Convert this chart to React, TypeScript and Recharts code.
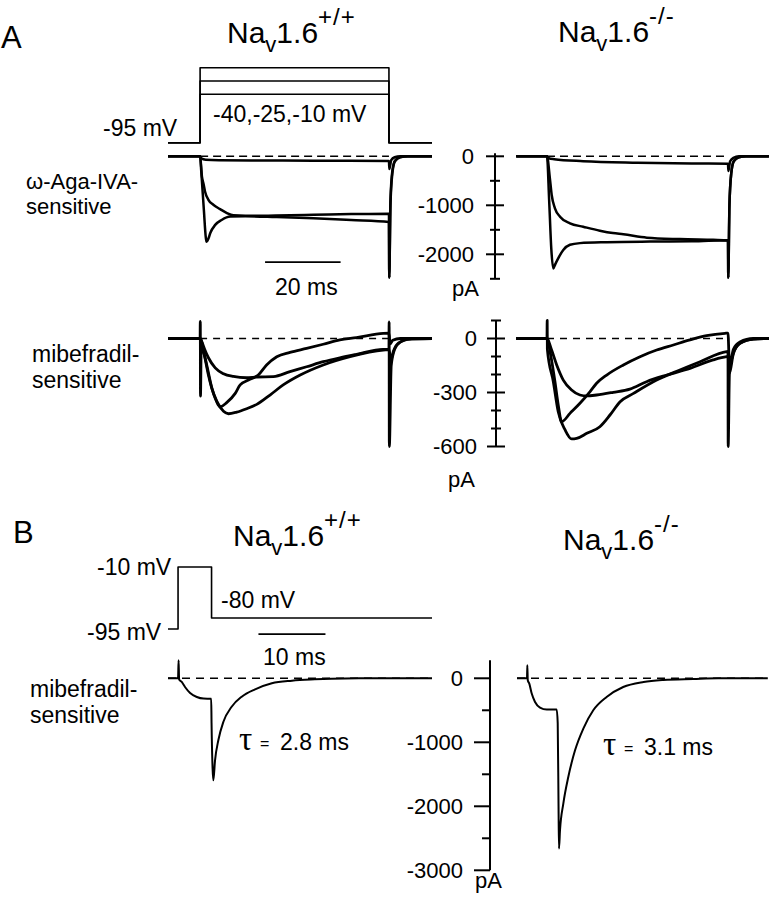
import React from 'react';
import { Line, LineChart, ReferenceLine, XAxis, YAxis } from 'recharts';

type Pt = [number, number];

// ---------- voltage protocols: [ms, mV]
const protoA40: Pt[] = [[-8.5, -95], [0, -95], [0, -40], [50, -40], [50, -95], [61.4, -95]];
const protoA25: Pt[] = [[-8.5, -95], [0, -95], [0, -25], [50, -25], [50, -95], [61.4, -95]];
const protoA10: Pt[] = [[-8.5, -95], [0, -95], [0, -10], [50, -10], [50, -95], [61.4, -95]];
const protoB: Pt[] = [[-1.5, -95], [0, -95], [0, -10], [5, -10], [5, -80], [37.9, -80]];

// ---------- omega-Aga-IVA-sensitive currents: [ms, pA]
const agaWtSmall: Pt[] = [[-8.5, 0], [0, 0], [0.3, -40], [1.5, -70], [5, -80], [15, -85], [30, -90], [50, -95], [50.1, -260], [50.6, -80], [51.5, -20], [53, 0], [61.4, 0]];
const agaWtSlow: Pt[] = [[-8.5, 0], [0, 0], [0.5, -420], [0.9, -560], [1.3, -718], [2.2, -888], [3.5, -990], [5.3, -1078], [7.1, -1159], [8.8, -1205], [12, -1215], [20, -1210], [30, -1195], [40, -1180], [50, -1170], [50.08, -2480], [50.4, -900], [50.9, -300], [51.6, -90], [53, -15], [55, 0], [61.4, 0]];
const agaWtPeak: Pt[] = [[-8.5, 0], [0, 0], [0.3, -300], [1.0, -1100], [1.5, -1650], [1.7, -1745], [2.2, -1680], [2.7, -1565], [4, -1400], [5.7, -1300], [8, -1230], [12, -1225], [20, -1240], [30, -1265], [40, -1300], [50, -1340], [50.08, -2480], [50.4, -1000], [50.9, -350], [51.6, -100], [53, -20], [55, 0], [61.4, 0]];

const agaKoSmall: Pt[] = [[-8.5, 0], [0, 0], [0.5, -40], [2, -60], [10, -100], [25, -130], [40, -145], [50, -150], [50.1, -300], [50.6, -100], [51.5, -30], [53, 0], [61.3, 0]];
const agaKoSlow: Pt[] = [[-8.5, 0], [0, 0], [0.8, -449], [1.3, -790], [2.2, -1061], [3.6, -1232], [6.35, -1369], [10, -1437], [14.6, -1518], [18.2, -1567], [21.1, -1592], [27.6, -1660], [36.7, -1690], [45.9, -1705], [50, -1714], [50.08, -2480], [50.4, -1000], [50.9, -350], [51.6, -100], [53, -20], [55, 0], [61.3, 0]];
const agaKoPeak: Pt[] = [[-8.5, 0], [0, 0], [0.6, -900], [1.2, -1900], [1.74, -2290], [2.3, -2200], [3.1, -2082], [4.5, -1912], [6.35, -1806], [9.1, -1772], [16.5, -1752], [28.5, -1740], [40, -1735], [50, -1712], [50.08, -2480], [50.4, -1000], [50.9, -350], [51.6, -100], [53, -20], [55, 0], [61.3, 0]];

// ---------- mibefradil-sensitive currents, panel A: [ms, pA]
const mibWtSmall: Pt[] = [[-8.5, 0], [0, 0], [0.5, -20], [1.2, -60], [2.2, -107], [4, -163], [6.2, -196], [8.8, -211], [12.3, -218], [15, -214], [19.4, -212], [23.8, -184], [28.2, -157], [32.6, -129], [37, -107], [41.4, -88], [48.5, -60], [50, -60], [50.5, -120], [51.2, -70], [52.5, -25], [55, -5], [61.4, 0]];
const mibWtMid: Pt[] = [[-8.5, 0], [0, 0], [1.3, -110], [2.2, -203], [3.1, -277], [4.0, -332], [4.8, -369], [5.3, -379], [7.1, -355], [9.3, -305], [10.6, -258], [12.8, -231], [15.4, -203], [17.6, -147], [20.3, -101], [23.8, -77], [28.2, -55], [32.6, -32], [37, -8], [41.4, 5], [48.5, 29], [50, 30], [50.3, -30], [51, -10], [53, 0], [61.4, 0]];
const mibWtLarge: Pt[] = [[-8.5, 0], [0, 0], [0.05, 95], [0.1, -320], [0.3, -40], [1.0, -80], [1.76, -147], [3.1, -274], [4.4, -348], [6.2, -404], [7.5, -418], [9.7, -409], [12.3, -390], [15, -366], [18.5, -314], [22, -258], [26.5, -203], [32.6, -147], [39.7, -101], [48.5, -64], [50, -62], [50.05, 92], [50.1, -600], [50.6, -150], [51.5, -60], [53, -20], [56, 0], [61.4, 0]];

const mibKoSmall: Pt[] = [[-8.5, 0], [0, 0], [1.2, -60], [2.68, -147], [4.5, -231], [6.8, -286], [9.1, -314], [11, -319], [13.7, -314], [18.3, -299], [22.9, -281], [27.5, -240], [33.1, -203], [39.5, -166], [45.9, -119], [49.6, -101], [50, -100], [50.4, -194], [51.5, -82], [53.3, -27], [57, -3], [61.3, 0]];
const mibKoMid: Pt[] = [[-8.5, 0], [0, 0], [1.0, -90], [2.2, -240], [3.1, -369], [4.05, -462], [6.35, -416], [9.1, -360], [11.9, -295], [13.7, -249], [16.5, -203], [21.1, -147], [25.7, -101], [30.3, -64], [34.9, -36], [39.5, -8], [44.1, 16], [49.2, 29], [50, 30], [50.4, -150], [51.5, -60], [53.3, -20], [57, 0], [61.3, 0]];
const mibKoLarge: Pt[] = [[-8.5, 0], [0, 0], [0.05, 100], [0.1, -60], [1.75, -240], [3.1, -407], [5.0, -508], [6.8, -558], [8.2, -555], [11, -527], [14.6, -490], [17.4, -425], [20.2, -351], [23.9, -305], [30.3, -231], [36.7, -175], [42.3, -129], [49.6, -73], [50, -72], [50.05, -600], [50.4, -194], [51.5, -82], [53.3, -27], [57, -3], [61.3, 0]];

// ---------- panel B tail currents: [ms, pA]
const tailWt: Pt[] = [[-1.5, 0], [0, 0], [0.08, 280], [0.16, -20], [0.55, -57], [1.04, -136], [1.8, -230], [2.8, -292], [3.8, -317], [4.95, -320], [5.0, -700], [5.15, -1400], [5.27, -1594], [5.52, -1281], [6.02, -964], [6.77, -678], [8.0, -444], [9.5, -287], [11.5, -172], [14, -78], [17, -37], [20.4, -16], [22.9, -6], [27, 0], [37.9, 0]];
const tailKo: Pt[] = [[-1.57, 0], [0, 0], [0.05, 203], [0.12, -30], [0.36, -83], [0.74, -239], [1.26, -370], [2.04, -458], [3.1, -489], [4.66, -489], [4.82, -700], [4.95, -2000], [5.02, -2661], [5.18, -2375], [5.7, -1958], [6.48, -1542], [7.54, -1125], [8.84, -786], [10.4, -500], [12.5, -292], [15.1, -136], [18.3, -58], [21.4, -27], [26.1, -11], [30, 0], [37.8, 0]];

// ---------- axis ticks (pA)
const agaTicks = [0, -500, -1000, -1500, -2000, -2500];
const agaMajor = [0, -1000, -2000];
const mibTicks = [100, 0, -100, -200, -300, -400, -500, -600];
const mibMajor = [0, -300, -600];
const tailTicks = [0, -500, -1000, -1500, -2000, -2500, -3000];
const tailMajor = [0, -1000, -2000, -3000];

const FONT = "'Liberation Sans', Arial, Helvetica, sans-serif";

type AxisSpec = {
  ticks: number[];
  major: number[];
  gap: number;
  majorLen: number;
  minorLen: number;
  both: boolean;
  top: number;
  bottom: number;
};

type Panel = {
  left: number;
  top: number;
  width: number;
  height: number;
  x: [number, number];
  y: [number, number];
  series: Pt[][];
  lineWidth: number;
  curve: 'linear' | 'monotoneX';
  axis?: AxisSpec;
  dash?: { from: number; to: number; pattern: string };
  bar?: { from: number; to: number; at: number };
};

const rows = (pts: Pt[]) => pts.map(([t, i]) => ({ t, i }));

const renderTick = (ax: AxisSpec) => (props: any) => {
  const { x, y, payload } = props;
  const v = payload.value;
  const cx = x + ax.gap;
  const major = ax.major.includes(v);
  const len = major ? ax.majorLen : ax.minorLen;
  return (
    <g>
      <line x1={cx - len} x2={ax.both ? cx + len : cx} y1={y} y2={y} stroke='#000' strokeWidth={2} />
      {major && (
        <text x={x} y={y} dy='0.36em' textAnchor='end' fontSize={22} fontFamily={FONT} fill='#000'>
          {v}
        </text>
      )}
    </g>
  );
};

function TracePanel({ p }: { p: Panel }) {
  const axisW = p.axis ? 90 : 0;
  return (
    <div style={{ position: 'absolute', left: p.left - axisW, top: p.top }}>
      <LineChart width={p.width + axisW} height={p.height} margin={{ top: 0, right: 0, bottom: 0, left: 0 }}>
        <XAxis type='number' dataKey='t' domain={p.x} allowDataOverflow hide />
        <YAxis
          type='number'
          domain={p.y}
          allowDataOverflow
          hide={!p.axis}
          width={axisW}
          ticks={p.axis?.ticks}
          interval={0}
          tickSize={0}
          tickMargin={p.axis?.gap ?? 0}
          axisLine={false}
          tickLine={false}
          tick={p.axis ? renderTick(p.axis) : false}
        />
        {p.axis && (
          <ReferenceLine
            segment={[{ x: p.x[0], y: p.axis.top }, { x: p.x[0], y: p.axis.bottom }]}
            stroke='#000'
            strokeWidth={2}
            ifOverflow='visible'
          />
        )}
        {p.dash && (
          <ReferenceLine
            segment={[{ x: p.dash.from, y: 0 }, { x: p.dash.to, y: 0 }]}
            stroke='#000'
            strokeWidth={1.6}
            strokeDasharray={p.dash.pattern}
            ifOverflow='visible'
          />
        )}
        {p.bar && (
          <ReferenceLine
            segment={[{ x: p.bar.from, y: p.bar.at }, { x: p.bar.to, y: p.bar.at }]}
            stroke='#000'
            strokeWidth={1.6}
            ifOverflow='visible'
          />
        )}
        {p.series.map((s, k) => (
          <Line
            key={k}
            data={rows(s)}
            dataKey='i'
            type={p.curve}
            stroke='#000'
            strokeWidth={p.lineWidth}
            strokeLinejoin='round'
            dot={false}
            activeDot={false}
            isAnimationActive={false}
          />
        ))}
      </LineChart>
    </div>
  );
}

const panels: Panel[] = [
  { left: 168, top: 58, width: 264, height: 94, x: [-8.5, 61.4], y: [-105.5, 1.0], series: [protoA40, protoA25, protoA10], lineWidth: 1.6, curve: 'linear' },
  {
    left: 168, top: 140, width: 264, height: 150, x: [-8.5, 61.4], y: [-2728.6, 332.7],
    series: [agaWtSmall, agaWtSlow, agaWtPeak], lineWidth: 2.5, curve: 'monotoneX',
    dash: { from: 0, to: 50, pattern: '8 5' }, bar: { from: 17.2, to: 37.2, at: -2160 },
  },
  {
    left: 495, top: 140, width: 274, height: 150, x: [-14.36, 61.33], y: [-2728.6, 332.7],
    series: [agaKoSmall, agaKoSlow, agaKoPeak], lineWidth: 2.5, curve: 'monotoneX',
    dash: { from: 0, to: 50, pattern: '8 5' },
    axis: { ticks: agaTicks, major: agaMajor, gap: 21, majorLen: 9, minorLen: 5, both: true, top: 60, bottom: -2500 },
  },
  {
    left: 168, top: 312, width: 264, height: 160, x: [-8.5, 61.4], y: [-741.7, 147.2],
    series: [mibWtSmall, mibWtMid, mibWtLarge], lineWidth: 2.8, curve: 'monotoneX',
    dash: { from: 0, to: 50, pattern: '7 6' },
  },
  {
    left: 496, top: 312, width: 273, height: 160, x: [-14.09, 61.33], y: [-741.7, 147.2],
    series: [mibKoSmall, mibKoMid, mibKoLarge], lineWidth: 2.8, curve: 'monotoneX',
    dash: { from: 0, to: 50, pattern: '7 6' },
    axis: { ticks: mibTicks, major: mibMajor, gap: 19, majorLen: 9, minorLen: 5, both: true, top: 100, bottom: -600 },
  },
  {
    left: 168, top: 557, width: 264, height: 82, x: [-1.5, 37.9], y: [-108.72, 3.72],
    series: [protoB], lineWidth: 1.6, curve: 'linear', bar: { from: 12, to: 22, at: -102 },
  },
  {
    left: 168, top: 650, width: 264, height: 140, x: [-1.5, 37.9], y: [-1745, 442],
    series: [tailWt], lineWidth: 2, curve: 'monotoneX',
    dash: { from: -1.5, to: 37.9, pattern: '8 6' },
  },
  {
    left: 490, top: 650, width: 279, height: 245, x: [-5.81, 37.99], y: [-3386, 442],
    series: [tailKo], lineWidth: 2, curve: 'monotoneX',
    dash: { from: -1.57, to: 37.8, pattern: '8 6' },
    axis: { ticks: tailTicks, major: tailMajor, gap: 27, majorLen: 16, minorLen: 8, both: false, top: 280, bottom: -3000 },
  },
];

function Title({ x, y, sup }: { x: number; y: number; sup: string }) {
  return (
    <text x={x} y={y} fontSize={30} fontFamily={FONT} fill='#000'>
      Na
      <tspan fontSize={22} y={y + 9}>v</tspan>
      <tspan y={y}>1.6</tspan>
      <tspan fontSize={24} y={y - 18} letterSpacing={1}>{sup}</tspan>
    </text>
  );
}

function Label({ x, y, children, size = 23 }: { x: number; y: number; children: React.ReactNode; size?: number }) {
  return (
    <text x={x} y={y} fontSize={size} fontFamily={FONT} fill='#000'>
      {children}
    </text>
  );
}

function Tau({ x, y, value }: { x: number; y: number; value: string }) {
  return (
    <g>
      <text x={x} y={y} fontSize={33} fontFamily="'Liberation Serif', 'DejaVu Serif', serif" fill='#000'>τ</text>
      <text x={x + 21} y={y - 1} fontSize={16} fontFamily={FONT} fill='#000'>=</text>
      <text x={x + 41} y={y} fontSize={23} fontFamily={FONT} fill='#000'>{value}</text>
    </g>
  );
}

export default function App() {
  return (
    <div style={{ position: 'absolute', left: 0, top: 0, width: 770, height: 899, background: '#fff' }}>
      {panels.map((p, k) => (
        <TracePanel key={k} p={p} />
      ))}
      <svg width={770} height={899} style={{ position: 'absolute', left: 0, top: 0, pointerEvents: 'none' }}>
        <Label x={1} y={48} size={31}>A</Label>
        <Label x={13} y={543} size={31}>B</Label>
        <Title x={227} y={43} sup='+/+' />
        <Title x={558} y={42} sup='-/-' />
        <Title x={233} y={546} sup='+/+' />
        <Title x={563} y={550} sup='-/-' />

        <Label x={213} y={122}>-40,-25,-10 mV</Label>
        <Label x={103} y={136}>-95 mV</Label>
        <Label x={26} y={189} size={22}>ω-Aga-IVA-</Label>
        <Label x={26} y={214} size={22}>sensitive</Label>
        <Label x={275} y={295}>20 ms</Label>
        <Label x={452} y={296} size={22}>pA</Label>

        <Label x={32} y={362}>mibefradil-</Label>
        <Label x={32} y={388}>sensitive</Label>
        <Label x={448} y={487} size={22}>pA</Label>

        <Label x={97} y={575}>-10 mV</Label>
        <Label x={87} y={640}>-95 mV</Label>
        <Label x={221} y={608}>-80 mV</Label>
        <Label x={263} y={665}>10 ms</Label>
        <Label x={30} y={697}>mibefradil-</Label>
        <Label x={30} y={723}>sensitive</Label>
        <Label x={475} y={888} size={22}>pA</Label>

        <Tau x={239} y={750} value='2.8 ms' />
        <Tau x={603} y={755} value='3.1 ms' />
      </svg>
    </div>
  );
}
